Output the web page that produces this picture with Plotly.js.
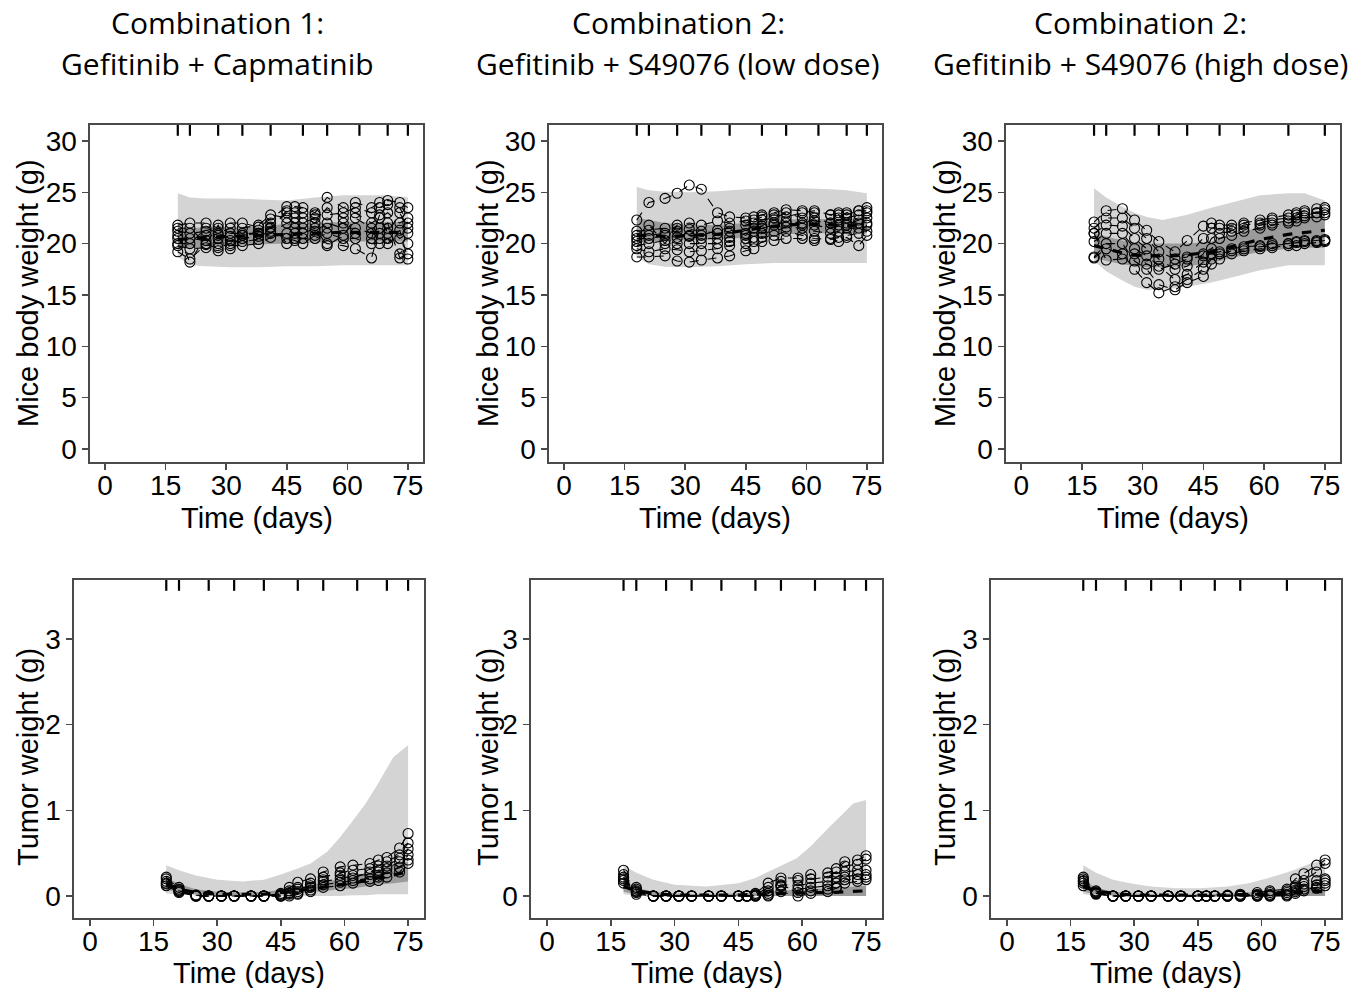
<!DOCTYPE html>
<html>
<head>
<meta charset="utf-8">
<script src="https://cdn.plot.ly/plotly-3.0.1.min.js"></script>
<style>html,body{margin:0;padding:0;background:#fff;}#chart{width:1349px;height:988px;}</style>
</head>
<body>
<div id="chart"></div>
<script>
// ---------- DATA ----------
const days = [18,21,25,28,31,34,38,41,45,47,49,52,55,59,62,66,68,70,73,75];
const doseDaysA = [18,21,28,34,41,49,55,63,70,75];
const doseDaysB = [18,21,28,34,41,49,55,66,75];
const xTicks = [0,15,30,45,60,75];
const bwTicks = [0,5,10,15,20,25,30];
const twTicks = [0,1,2,3];

const panelTitles1 = ["Combination 1:", "Combination 2:", "Combination 2:"];
const panelTitles2 = ["Gefitinib + Capmatinib", "Gefitinib + S49076 (low dose)", "Gefitinib + S49076 (high dose)"];

// Body weight, Combination 1 (g), one row per mouse
const bwCombo1 = [
  [21.8,22.0,22.0,21.5,22.0,22.0,21.6,22.4,23.6,23.6,23.5,23.0,24.5,23.5,24.0,23.5,24.0,24.2,24.0,23.5],
  [21.2,21.0,21.2,20.8,21.0,21.0,21.0,21.6,23.0,22.5,22.5,22.0,23.5,22.5,23.0,22.0,22.5,23.0,22.0,22.5],
  [20.5,20.5,20.3,20.0,20.3,20.2,20.4,21.0,22.0,21.5,21.5,21.2,22.0,21.5,21.5,21.0,21.0,21.5,20.5,21.0],
  [19.8,19.5,19.6,19.3,19.8,19.8,20.0,20.6,21.0,20.5,20.5,20.5,21.0,20.5,20.5,20.0,20.0,20.5,19.0,20.0],
  [19.2,18.5,19.9,19.6,20.0,20.5,20.7,21.2,20.5,20.3,20.0,20.8,20.0,19.8,19.5,18.6,21.5,22.0,18.6,19.0],
  [20.8,18.2,20.8,20.5,20.7,20.8,21.3,22.0,20.0,21.0,21.0,21.5,19.8,20.8,22.5,21.5,20.5,20.0,21.3,18.5],
  [20.0,20.0,21.5,21.0,21.5,21.5,21.8,22.8,22.5,22.0,22.0,22.5,21.5,22.0,21.0,20.5,22.8,21.0,23.0,21.5],
  [21.5,21.5,20.0,21.8,19.5,20.8,21.0,21.5,23.2,23.0,23.0,22.8,22.8,23.0,23.5,23.0,23.5,23.8,23.5,22.0]
];
// Body weight, Combination 2 low dose
const bwCombo2Low = [
  [22.3,24.0,24.4,24.9,25.7,25.3,23.0,22.6,22.5,22.3,22.6,22.8,22.6,23.0,23.2,22.8,22.5,23.0,23.2,23.2],
  [18.7,18.7,18.8,18.3,18.2,18.4,18.6,18.8,19.3,19.5,20.2,20.3,20.5,20.5,20.3,20.5,20.2,20.6,19.8,20.8],
  [20.5,20.5,20.8,20.6,20.7,20.5,20.5,20.6,21.0,21.2,21.5,21.8,22.2,22.0,21.8,21.5,21.8,22.0,22.0,22.5],
  [19.8,20.0,20.3,20.0,20.0,20.0,20.0,20.2,20.5,20.6,21.0,21.2,21.6,21.5,21.2,21.0,21.2,21.5,21.5,21.8],
  [21.2,21.3,21.5,21.5,21.4,21.2,21.0,21.2,21.8,22.0,22.3,22.5,23.0,22.5,22.2,22.0,22.3,22.5,22.8,23.0],
  [19.5,19.2,19.5,19.4,19.2,19.3,19.5,19.8,20.0,20.2,20.6,20.8,21.2,20.8,20.5,20.4,20.6,20.8,21.0,21.2],
  [20.2,20.8,21.0,21.2,20.8,20.8,21.3,21.5,20.8,21.5,21.7,22.0,22.0,21.8,22.5,22.0,22.8,21.8,22.3,22.0],
  [20.8,21.8,20.0,21.8,22.0,21.8,22.2,22.0,22.2,22.6,22.8,23.0,23.3,23.2,23.0,22.8,23.0,22.8,23.2,23.5]
];
// Body weight, Combination 2 high dose
const bwCombo2High = [
  [22.1,23.2,23.4,22.3,21.3,20.2,19.2,20.3,21.7,22.0,21.8,21.8,22.0,22.3,22.5,22.8,23.0,23.2,23.4,23.5],
  [21.5,22.5,22.5,21.5,20.5,19.2,18.5,18.7,20.5,21.5,21.5,21.5,21.8,22.0,22.3,22.5,22.8,23.0,23.0,23.3],
  [21.0,21.8,21.7,20.5,19.5,18.5,17.5,17.8,19.0,20.5,21.0,21.2,21.5,21.8,22.0,22.2,22.5,22.7,23.0,23.0],
  [20.2,21.0,21.0,19.5,18.8,17.8,16.5,17.0,18.2,19.5,20.5,20.8,21.2,21.5,21.8,22.0,22.2,22.5,22.6,22.8],
  [18.7,20.0,20.0,18.3,17.5,16.0,15.5,16.2,16.8,18.0,18.5,19.0,19.3,19.5,19.6,19.8,19.8,20.0,20.1,20.2],
  [18.6,19.5,19.0,17.5,16.2,15.2,15.8,16.5,17.5,18.5,19.0,19.3,19.5,19.7,19.8,20.0,20.1,20.2,20.3,20.4],
  [21.0,18.4,18.5,19.0,18.0,17.5,18.0,18.5,18.8,19.0,19.2,19.5,19.7,19.8,20.0,20.0,20.2,20.3,20.2,20.3]
];
// Tumor weight (g)
const twCombo1 = [
  [0.20,0.10,0.01,0.00,0.00,0.00,0.00,0.00,0.03,0.10,0.16,0.20,0.28,0.34,0.36,0.38,0.42,0.45,0.56,0.73],
  [0.17,0.08,0.00,0.00,0.00,0.00,0.00,0.00,0.02,0.06,0.10,0.15,0.22,0.27,0.30,0.32,0.35,0.40,0.48,0.62],
  [0.14,0.05,0.00,0.00,0.00,0.00,0.00,0.00,0.00,0.03,0.05,0.10,0.17,0.20,0.24,0.25,0.28,0.32,0.40,0.55],
  [0.12,0.04,0.00,0.00,0.00,0.00,0.00,0.00,0.00,0.02,0.03,0.07,0.13,0.16,0.18,0.20,0.22,0.27,0.33,0.48],
  [0.22,0.06,0.01,0.00,0.00,0.00,0.00,0.00,0.01,0.04,0.08,0.12,0.19,0.24,0.21,0.28,0.30,0.35,0.44,0.42],
  [0.15,0.07,0.00,0.00,0.00,0.00,0.00,0.00,0.00,0.00,0.02,0.05,0.10,0.12,0.15,0.17,0.18,0.22,0.28,0.38]
];
const twCombo2Low = [
  [0.30,0.10,0.00,0.00,0.00,0.00,0.00,0.00,0.00,0.00,0.03,0.15,0.21,0.21,0.25,0.27,0.32,0.40,0.42,0.47],
  [0.22,0.06,0.00,0.00,0.00,0.00,0.00,0.00,0.00,0.00,0.02,0.10,0.17,0.18,0.20,0.22,0.28,0.35,0.37,0.43],
  [0.18,0.04,0.00,0.00,0.00,0.00,0.00,0.00,0.00,0.00,0.01,0.06,0.13,0.12,0.15,0.17,0.22,0.28,0.30,0.30],
  [0.15,0.02,0.00,0.00,0.00,0.00,0.00,0.00,0.00,0.00,0.00,0.03,0.11,0.08,0.10,0.12,0.15,0.22,0.25,0.25],
  [0.25,0.08,0.00,0.00,0.00,0.00,0.00,0.00,0.00,0.00,0.00,0.01,0.12,0.04,0.06,0.08,0.10,0.19,0.20,0.19],
  [0.20,0.05,0.00,0.00,0.00,0.00,0.00,0.00,0.00,0.00,0.00,0.00,0.05,0.00,0.03,0.05,0.09,0.15,0.17,0.22]
];
const twCombo2High = [
  [0.20,0.05,0.00,0.00,0.00,0.00,0.00,0.00,0.00,0.00,0.00,0.01,0.02,0.04,0.06,0.08,0.20,0.26,0.36,0.42],
  [0.17,0.04,0.00,0.00,0.00,0.00,0.00,0.00,0.00,0.00,0.00,0.00,0.01,0.02,0.04,0.06,0.12,0.18,0.28,0.38],
  [0.15,0.03,0.00,0.00,0.00,0.00,0.00,0.00,0.00,0.00,0.00,0.00,0.00,0.01,0.02,0.04,0.10,0.14,0.18,0.20],
  [0.12,0.02,0.00,0.00,0.00,0.00,0.00,0.00,0.00,0.00,0.00,0.00,0.00,0.00,0.01,0.02,0.07,0.11,0.13,0.18],
  [0.22,0.06,0.00,0.00,0.00,0.00,0.00,0.00,0.00,0.00,0.00,0.00,0.00,0.00,0.00,0.01,0.05,0.08,0.10,0.15],
  [0.18,0.03,0.00,0.00,0.00,0.00,0.00,0.00,0.00,0.00,0.00,0.00,0.00,0.00,0.00,0.00,0.03,0.06,0.09,0.12]
];

// Prediction bands: body weight
const bandDaysBW12 = [18,21,25,31,38,45,52,59,66,70,75];
const bw1OutHi = [24.9,24.5,24.4,24.4,24.3,24.2,24.5,24.7,24.7,24.7,24.5];
const bw1OutLo = [18.7,17.9,17.8,17.7,17.7,17.8,17.8,17.9,17.9,17.9,17.9];
const bw1InHi  = [21.3,21.5,21.6,21.6,21.7,21.9,22.0,22.1,22.1,22.1,22.1];
const bw1InLo  = [19.5,19.6,19.7,19.8,19.9,20.0,20.1,20.2,20.2,20.2,20.2];
const bw1Med   = [20.4,20.5,20.6,20.7,20.8,20.9,21.0,21.1,21.1,21.1,21.1];

const bw2OutHi = [25.5,25.2,25.05,25.0,25.1,25.3,25.4,25.4,25.3,25.2,24.9];
const bw2OutLo = [18.7,18.0,17.75,17.7,17.8,18.0,18.1,18.1,18.1,18.1,18.1];
const bw2InHi  = [22.5,22.3,22.0,21.8,21.8,22.0,22.3,22.4,22.4,22.4,22.3];
const bw2InLo  = [20.1,20.2,20.2,20.3,20.4,20.6,20.8,21.0,21.0,21.0,21.0];
const bw2Med   = [20.8,20.8,20.7,20.8,20.9,21.3,21.7,21.9,21.8,21.7,21.7];

const bandDaysBW3 = [18,21,25,28,31,35,41,47,53,59,66,70,75];
const bw3OutHi = [25.4,24.5,23.6,23.0,22.6,22.3,22.8,23.5,24.1,24.7,24.9,24.9,24.2];
const bw3OutLo = [18.3,17.3,16.4,15.8,15.5,15.5,15.8,16.2,16.8,17.4,17.9,17.9,17.9];
const bw3InHi  = [21.0,20.7,20.3,20.1,20.0,20.0,20.0,20.2,21.0,21.6,22.3,22.6,23.0];
const bw3InLo  = [18.6,18.3,18.0,17.8,17.7,17.7,17.8,18.1,18.7,19.2,19.5,19.6,19.6];
const bw3Med   = [19.8,19.5,19.1,18.9,18.8,18.8,18.9,19.2,19.8,20.4,20.9,21.1,21.3];

// Prediction bands: tumor weight
const bandDaysT1 = [18,21,25,30,36,41,45,49,52,56,59,62,65,68,71.5,75];
const t1OutHi = [0.36,0.30,0.24,0.19,0.17,0.19,0.25,0.32,0.38,0.52,0.69,0.88,1.08,1.32,1.62,1.76];
const t1OutLo = [0.03,0.02,0.01,0.00,0.00,0.00,0.00,0.00,0.00,0.00,0.00,0.01,0.01,0.02,0.02,0.02];
const t1InHi  = [0.22,0.14,0.08,0.05,0.04,0.05,0.07,0.10,0.13,0.17,0.20,0.23,0.27,0.31,0.36,0.40];
const t1InLo  = [0.08,0.04,0.02,0.01,0.01,0.01,0.02,0.03,0.04,0.06,0.08,0.09,0.11,0.13,0.15,0.17];
const t1Med   = [0.14,0.08,0.04,0.02,0.02,0.02,0.04,0.06,0.08,0.11,0.13,0.15,0.18,0.21,0.25,0.28];

const bandDaysT2 = [18,21,25,30,37.5,45,49,54,58.7,62,66.5,70,72,75];
const t2OutHi = [0.36,0.27,0.19,0.13,0.11,0.15,0.21,0.33,0.44,0.58,0.81,0.98,1.08,1.12];
const t2OutLo = [0.02,0.01,0.00,0.00,0.00,0.00,0.00,0.00,0.00,0.00,0.00,0.00,0.00,0.00];
const t2InHi  = [0.18,0.10,0.05,0.03,0.02,0.03,0.04,0.06,0.07,0.08,0.09,0.10,0.11,0.12];
const t2InLo  = [0.05,0.02,0.01,0.00,0.00,0.00,0.00,0.00,0.00,0.00,0.00,0.00,0.00,0.00];
const t2Med   = [0.11,0.06,0.03,0.01,0.01,0.01,0.02,0.03,0.03,0.04,0.04,0.05,0.05,0.06];

const bandDaysT3 = [18,21,25,30,34,40,45.5,52,57,61,65,68,71.5,75];
const t3OutHi = [0.36,0.27,0.19,0.14,0.11,0.09,0.09,0.11,0.15,0.20,0.26,0.31,0.38,0.42];
const t3OutLo = [0.02,0.01,0.00,0.00,0.00,0.00,0.00,0.00,0.00,0.00,0.00,0.00,0.00,0.00];
const t3InHi  = [0.18,0.10,0.05,0.03,0.02,0.02,0.02,0.03,0.04,0.05,0.07,0.08,0.10,0.11];
const t3InLo  = [0.05,0.02,0.01,0.00,0.00,0.00,0.00,0.00,0.00,0.00,0.00,0.00,0.00,0.00];
const t3Med   = [0.11,0.06,0.03,0.01,0.01,0.01,0.01,0.01,0.02,0.02,0.03,0.04,0.05,0.05];

// ---------- BUILD ----------
const traces = [];
const shapes = [];
const TICKFONT = {family: "Liberation Sans, Arial, sans-serif", size: 28, color: "#000"};

function axId(n) { return n === 1 ? '' : String(n); }

// band drawn as a filled path in data coordinates (placed below the traces)
function band(axN, bx, lo, hi, color) {
  const xa = 'x' + axId(axN), ya = 'y' + axId(axN);
  let p = '';
  for (let i = 0; i < bx.length; i++) p += (i === 0 ? 'M' : 'L') + bx[i] + ',' + hi[i] + ' ';
  for (let i = bx.length - 1; i >= 0; i--) p += 'L' + bx[i] + ',' + lo[i] + ' ';
  p += 'Z';
  shapes.push({type: 'path', xref: xa, yref: ya, path: p, fillcolor: color, line: {width: 0}, layer: 'below'});
}
function panel(axN, mice, bx, outLo, outHi, inLo, inHi, med, doses) {
  const xa = 'x' + axId(axN), ya = 'y' + axId(axN);
  band(axN, bx, outLo, outHi, 'rgb(212,212,212)');
  band(axN, bx, inLo, inHi, 'rgb(155,155,155)');
  traces.push({x: bx, y: med, xaxis: xa, yaxis: ya, type: 'scatter', mode: 'lines',
    line: {color: '#000', width: 3.2, dash: 'dash'}, showlegend: false});
  mice.forEach(m => {
    traces.push({x: days, y: m, xaxis: xa, yaxis: ya, type: 'scatter', mode: 'lines+markers',
      line: {color: '#000', width: 1.1, dash: 'dash'},
      marker: {symbol: 'circle-open', size: 10, color: '#000', line: {width: 1.1, color: '#000'}},
      showlegend: false});
  });
  doses.forEach(d => {
    shapes.push({type: 'line', xref: xa, yref: ya + ' domain', x0: d, x1: d, y0: 0.968, y1: 1,
      line: {color: '#000', width: 2.2}});
  });
}

panel(1, bwCombo1, bandDaysBW12, bw1OutLo, bw1OutHi, bw1InLo, bw1InHi, bw1Med, doseDaysA);
panel(2, bwCombo2Low, bandDaysBW12, bw2OutLo, bw2OutHi, bw2InLo, bw2InHi, bw2Med, doseDaysA);
panel(3, bwCombo2High, bandDaysBW3, bw3OutLo, bw3OutHi, bw3InLo, bw3InHi, bw3Med, doseDaysB);
panel(4, twCombo1, bandDaysT1, t1OutLo, t1OutHi, t1InLo, t1InHi, t1Med, doseDaysA);
panel(5, twCombo2Low, bandDaysT2, t2OutLo, t2OutHi, t2InLo, t2InHi, t2Med, doseDaysA);
panel(6, twCombo2High, bandDaysT3, t3OutLo, t3OutHi, t3InLo, t3InHi, t3Med, doseDaysB);

const W = 1349, H = 988;
function xd(a, b) { return [a / W, b / W]; }
function yd(top, bot) { return [1 - bot / H, 1 - top / H]; }

function xAxis(dom, anchor) {
  return {domain: dom, anchor: anchor, range: [-3.75, 78.75], tickvals: xTicks, ticktext: xTicks.map(String),
    ticks: 'outside', ticklen: 6, tickwidth: 1.5, tickcolor: '#4a4a4a', showline: true, mirror: true,
    linecolor: '#4a4a4a', linewidth: 1.6, showgrid: false, zeroline: false, tickfont: TICKFONT,
    ticklabelstandoff: -8, fixedrange: true};
}
function yAxis(dom, anchor, rng, tv) {
  return {domain: dom, anchor: anchor, range: rng, tickvals: tv, ticktext: tv.map(String),
    ticks: 'outside', ticklen: 6, tickwidth: 1.5, tickcolor: '#4a4a4a', showline: true, mirror: true,
    linecolor: '#4a4a4a', linewidth: 1.6, showgrid: false, zeroline: false, tickfont: TICKFONT, fixedrange: true};
}
const topY = yd(125, 462), botY = yd(580, 918);
const bwRange = [-1.27, 31.55], twRange = [-0.257, 3.689];

const annotations = [];
const TITLEFONT = {family: "Open Sans, Noto Sans, sans-serif", size: 30, color: '#000'};
const AXFONT = {family: "Liberation Sans, Arial, sans-serif", size: 29, color: '#000'};
const titleX = [217, 678, 1140];
for (let i = 0; i < 3; i++) {
  annotations.push({xref: 'paper', yref: 'paper', x: titleX[i] / W, y: 1 - 22 / H, xanchor: 'center', yanchor: 'middle',
    text: panelTitles1[i], showarrow: false, font: TITLEFONT});
  annotations.push({xref: 'paper', yref: 'paper', x: titleX[i] / W, y: 1 - 64 / H, xanchor: 'center', yanchor: 'middle',
    text: panelTitles2[i], showarrow: false, font: TITLEFONT});
}
const yTitleX = [28, 488, 945];
for (let i = 0; i < 3; i++) {
  annotations.push({xref: 'paper', yref: 'paper', x: yTitleX[i] / W, y: 1 - 293 / H, xanchor: 'center', yanchor: 'middle',
    text: 'Mice body weight (g)', textangle: -90, showarrow: false, font: AXFONT});
  annotations.push({xref: 'paper', yref: 'paper', x: (yTitleX[i]) / W, y: 1 - 757 / H, xanchor: 'center', yanchor: 'middle',
    text: 'Tumor weight (g)', textangle: -90, showarrow: false, font: AXFONT});
}
const xTitleTop = [257, 715, 1173], xTitleBot = [249, 707, 1166];
for (let i = 0; i < 3; i++) {
  annotations.push({xref: 'paper', yref: 'paper', x: xTitleTop[i] / W, y: 1 - 518 / H, xanchor: 'center', yanchor: 'middle',
    text: 'Time (days)', showarrow: false, font: AXFONT});
  annotations.push({xref: 'paper', yref: 'paper', x: xTitleBot[i] / W, y: 1 - 973 / H, xanchor: 'center', yanchor: 'middle',
    text: 'Time (days)', showarrow: false, font: AXFONT});
}

const layout = {
  width: W, height: H, margin: {l: 0, r: 0, t: 0, b: 0}, paper_bgcolor: '#fff', plot_bgcolor: '#fff',
  showlegend: false,
  xaxis: xAxis(xd(90, 423), 'y'),   yaxis: yAxis(topY, 'x', bwRange, bwTicks),
  xaxis2: xAxis(xd(549, 882), 'y2'), yaxis2: yAxis(topY, 'x2', bwRange, bwTicks),
  xaxis3: xAxis(xd(1006, 1340), 'y3'), yaxis3: yAxis(topY, 'x3', bwRange, bwTicks),
  xaxis4: xAxis(xd(74, 424), 'y4'), yaxis4: yAxis(botY, 'x4', twRange, twTicks),
  xaxis5: xAxis(xd(531, 882), 'y5'), yaxis5: yAxis(botY, 'x5', twRange, twTicks),
  xaxis6: xAxis(xd(991, 1341), 'y6'), yaxis6: yAxis(botY, 'x6', twRange, twTicks),
  shapes: shapes, annotations: annotations
};

Plotly.newPlot('chart', traces, layout, {staticPlot: true, displayModeBar: false});
</script>
</body>
</html>
